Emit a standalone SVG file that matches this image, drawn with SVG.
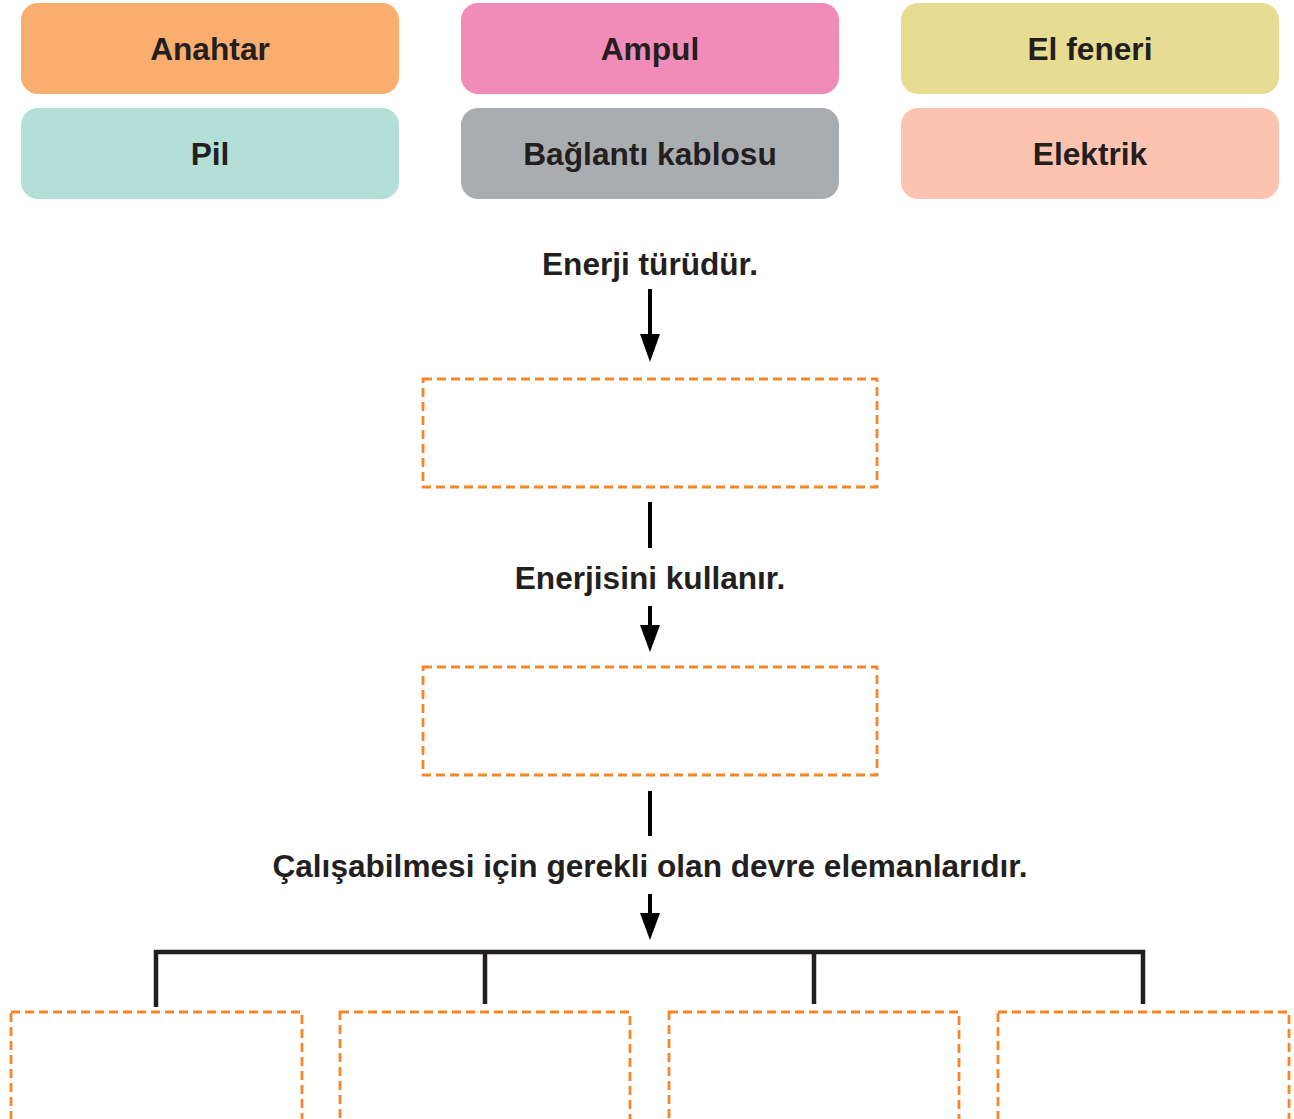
<svg xmlns="http://www.w3.org/2000/svg" width="1294" height="1119" viewBox="0 0 1294 1119">
<defs>
<style>
.lbl{font-family:"Liberation Sans",Arial,sans-serif;font-weight:bold;font-size:31.7px;fill:#231F20;text-anchor:middle}
.txt{font-family:"Liberation Sans",Arial,sans-serif;font-weight:bold;font-size:31.6px;fill:#231F20;text-anchor:middle}
.dash{fill:none;stroke:#F7862A;stroke-width:2.8;stroke-dasharray:9 5}
.ln{stroke:#000;stroke-width:4;fill:none}
.br{stroke:#231F20;stroke-width:4.5;fill:none}
</style>
</defs>
<rect width="1294" height="1119" fill="#fff"/>
<g id="anahtar"><rect x="21" y="3" width="378" height="91" rx="17" fill="#F9AE6F"/><text class="lbl" x="210" y="60">Anahtar</text></g>
<g id="ampul"><rect x="461" y="3" width="378" height="91" rx="17" fill="#F18BB7"/><text class="lbl" x="650" y="60">Ampul</text></g>
<g id="elfeneri"><rect x="901" y="3" width="378" height="91" rx="17" fill="#E6DD93"/><text class="lbl" x="1090" y="60">El feneri</text></g>
<g id="pil"><rect x="21" y="108" width="378" height="91" rx="17" fill="#B3DFD6"/><text class="lbl" x="210" y="165">Pil</text></g>
<g id="baglanti"><rect x="461" y="108" width="378" height="91" rx="17" fill="#AAADB0"/><text class="lbl" x="650" y="165">Bağlantı kablosu</text></g>
<g id="elektrik"><rect x="901" y="108" width="378" height="91" rx="17" fill="#FCC3B1"/><text class="lbl" x="1090" y="165">Elektrik</text></g>

<g id="t1"><text class="txt" x="650" y="275">Enerji türüdür.</text></g>
<g id="box1"><rect class="dash" x="423" y="379" width="454" height="108"/></g>
<g id="t2"><text class="txt" x="650" y="589">Enerjisini kullanır.</text></g>
<g id="box2"><rect class="dash" x="423" y="667" width="454" height="108"/></g>
<g id="t3"><text class="txt" x="650" y="877">Çalışabilmesi için gerekli olan devre elemanlarıdır.</text></g>
<g id="b1"><rect class="dash" x="11" y="1012" width="291" height="120"/></g>
<g id="b2"><rect class="dash" x="340" y="1012" width="290" height="120"/></g>
<g id="b3"><rect class="dash" x="669" y="1012" width="290" height="120"/></g>
<g id="b4"><rect class="dash" x="998" y="1012" width="291" height="120"/></g>

<g id="connectors">
<line class="ln" x1="650" y1="289" x2="650" y2="344"/>
<path d="M640,334 L650,362 L660,334 Z" fill="#000"/>
<line class="ln" x1="650" y1="502" x2="650" y2="548"/>
<line class="ln" x1="650" y1="606" x2="650" y2="635"/>
<path d="M640,625 L650,652 L660,625 Z" fill="#000"/>
<line class="ln" x1="650" y1="791" x2="650" y2="836"/>
<line class="ln" x1="650" y1="894" x2="650" y2="922"/>
<path d="M640,913 L650,940 L660,913 Z" fill="#000"/>
<path class="br" d="M156,1007 V952 H1143 V1004"/>
<line class="br" x1="485" y1="952" x2="485" y2="1004"/>
<line class="br" x1="814" y1="952" x2="814" y2="1004"/>
</g>
</svg>
